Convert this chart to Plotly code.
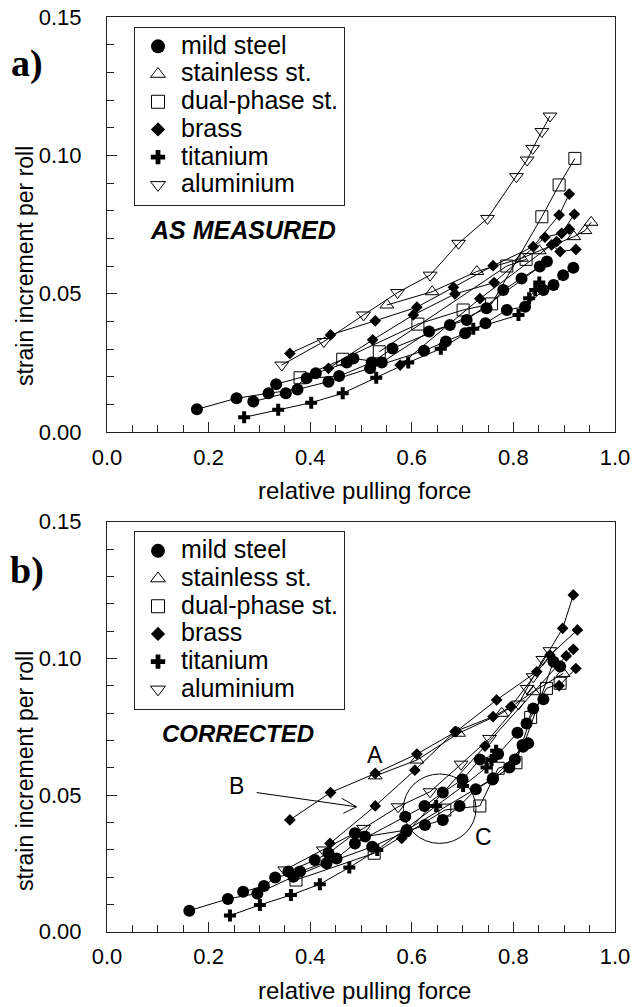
import plotly.graph_objects as go

# ---------------- data: panel a (as measured) ----------------
MS_A1_x = [0.177, 0.255, 0.318, 0.375, 0.436, 0.518, 0.624, 0.667, 0.705, 0.745, 0.787, 0.823, 0.859, 0.879, 0.898, 0.918]
MS_A1_y = [0.0082, 0.0122, 0.0140, 0.0154, 0.0182, 0.0230, 0.0294, 0.0327, 0.0357, 0.0393, 0.0441, 0.0453, 0.0513, 0.0531, 0.0567, 0.0594]
MS_A2_x = [0.288, 0.352, 0.393, 0.457, 0.521, 0.562, 0.675, 0.747, 0.780, 0.816, 0.852]
MS_A2_y = [0.0110, 0.0140, 0.0194, 0.0202, 0.0251, 0.0302, 0.0387, 0.0447, 0.0513, 0.0555, 0.0598]
MS_A3_x = [0.333, 0.411, 0.472, 0.485, 0.541, 0.634, 0.708, 0.866]
MS_A3_y = [0.0173, 0.0212, 0.0251, 0.0266, 0.0251, 0.0363, 0.0405, 0.0616]
ST_A_x = [0.551, 0.640, 0.728, 0.816, 0.851, 0.919, 0.941, 0.953]
ST_A_y = [0.0459, 0.0507, 0.0580, 0.0628, 0.0655, 0.0706, 0.0728, 0.0758]
DP_A1_x = [0.380, 0.464, 0.612, 0.701, 0.757, 0.856, 0.890, 0.921]
DP_A1_y = [0.0196, 0.0263, 0.0390, 0.0441, 0.0463, 0.0778, 0.0893, 0.0989]
DP_A2_x = [0.536, 0.787, 0.825]
DP_A2_y = [0.0290, 0.0600, 0.0624]
BR_A1_x = [0.360, 0.440, 0.528, 0.610, 0.682, 0.760, 0.839, 0.890, 0.910]
BR_A1_y = [0.0284, 0.0351, 0.0402, 0.0451, 0.0523, 0.0601, 0.0670, 0.0784, 0.0860]
BR_A2_x = [0.436, 0.523, 0.603, 0.685, 0.762, 0.862, 0.895, 0.920]
BR_A2_y = [0.0230, 0.0333, 0.0423, 0.0499, 0.0540, 0.0704, 0.0718, 0.0787]
BR_A3_x = [0.577, 0.734, 0.875, 0.892, 0.923]
BR_A3_y = [0.0242, 0.0482, 0.0676, 0.0652, 0.0660]
BR_A4_x = [0.885, 0.910]
BR_A4_y = [0.0688, 0.0733]
TI_A_x = [0.270, 0.337, 0.402, 0.464, 0.530, 0.593, 0.657, 0.721, 0.810, 0.831, 0.843, 0.851]
TI_A_y = [0.0053, 0.0080, 0.0106, 0.0140, 0.0196, 0.0251, 0.0301, 0.0373, 0.0423, 0.0483, 0.0513, 0.0540]
AL_A_x = [0.344, 0.427, 0.505, 0.572, 0.636, 0.692, 0.749, 0.806, 0.827, 0.838, 0.856, 0.872]
AL_A_y = [0.0242, 0.0327, 0.0423, 0.0504, 0.0567, 0.0682, 0.0772, 0.0923, 0.0983, 0.1025, 0.1086, 0.1142]

# ---------------- data: panel b (corrected) ----------------
MS_B1_x = [0.162, 0.238, 0.296, 0.367, 0.432, 0.522, 0.589, 0.626, 0.661, 0.694, 0.726, 0.759, 0.792, 0.803, 0.818, 0.829]
MS_B1_y = [0.0077, 0.0120, 0.0140, 0.0201, 0.0250, 0.0311, 0.0366, 0.0390, 0.0409, 0.0460, 0.0521, 0.0557, 0.0601, 0.0630, 0.0683, 0.0689]
MS_B2_x = [0.268, 0.309, 0.331, 0.380, 0.452, 0.488, 0.587, 0.625, 0.661, 0.700, 0.734, 0.770, 0.808, 0.826, 0.839, 0.859]
MS_B2_y = [0.0146, 0.0167, 0.0198, 0.0220, 0.0268, 0.0323, 0.0421, 0.0460, 0.0509, 0.0557, 0.0630, 0.0650, 0.0728, 0.0762, 0.0817, 0.0850]
MS_B3_x = [0.357, 0.409, 0.436, 0.488, 0.508, 0.590, 0.760, 0.819, 0.879, 0.892]
MS_B3_y = [0.0220, 0.0262, 0.0287, 0.0360, 0.0348, 0.0372, 0.0561, 0.0677, 0.0988, 0.0970]
ST_B_x = [0.528, 0.610, 0.692, 0.777, 0.839, 0.898]
ST_B_y = [0.0570, 0.0628, 0.0726, 0.0799, 0.0878, 0.0945]
DP_B_x = [0.372, 0.526, 0.665, 0.734, 0.770, 0.805, 0.834, 0.865, 0.892]
DP_B_y = [0.0189, 0.0287, 0.0445, 0.0460, 0.0598, 0.0618, 0.0784, 0.0890, 0.0909]
BR_B1_x = [0.360, 0.440, 0.528, 0.610, 0.687, 0.767, 0.846, 0.897, 0.918]
BR_B1_y = [0.0409, 0.0509, 0.0579, 0.0650, 0.0732, 0.0848, 0.0951, 0.1110, 0.1232]
BR_B2_x = [0.439, 0.528, 0.606, 0.685, 0.760, 0.795, 0.872, 0.926]
BR_B2_y = [0.0323, 0.0460, 0.0591, 0.0732, 0.0787, 0.0823, 0.1012, 0.1104]
BR_B3_x = [0.580, 0.744, 0.904, 0.918]
BR_B3_y = [0.0341, 0.0679, 0.1009, 0.1033]
BR_B4_x = [0.890, 0.923]
BR_B4_y = [0.0900, 0.0963]
TI_B_x = [0.242, 0.301, 0.362, 0.419, 0.477, 0.532, 0.648, 0.701, 0.747, 0.757, 0.766]
TI_B_y = [0.0059, 0.0098, 0.0134, 0.0174, 0.0235, 0.0299, 0.0460, 0.0533, 0.0601, 0.0628, 0.0662]
AL_B_x = [0.350, 0.426, 0.505, 0.573, 0.636, 0.697, 0.753, 0.810, 0.827, 0.839, 0.858, 0.872]
AL_B_y = [0.0226, 0.0299, 0.0378, 0.0457, 0.0512, 0.0613, 0.0707, 0.0833, 0.0890, 0.0933, 0.0996, 0.1028]

MATERIALS = ["mild steel", "stainless st.", "dual-phase st.", "brass", "titanium", "aluminium"]

FONT = "Liberation Sans, Arial, sans-serif"
SERIF = "Liberation Serif, Times New Roman, serif"
STYLE = {
    "mild steel": dict(symbol="circle", size=12, color="black", line=dict(width=0)),
    "stainless st.": dict(symbol="triangle-up-open", size=12, color="black", line=dict(width=1, color="black")),
    "dual-phase st.": dict(symbol="square-open", size=12, color="black", line=dict(width=1, color="black")),
    "brass": dict(symbol="diamond", size=9, color="black", line=dict(width=0)),
    "titanium": dict(symbol="cross", size=10, color="black", line=dict(width=0)),
    "aluminium": dict(symbol="triangle-down-open", size=12, color="black", line=dict(width=1, color="black")),
}
LEG_SIZE = {"mild steel": 14, "stainless st.": 13, "dual-phase st.": 13, "brass": 11, "titanium": 12, "aluminium": 13}

panel_a = [
    ("mild steel", MS_A1_x, MS_A1_y), ("mild steel", MS_A2_x, MS_A2_y), ("mild steel", MS_A3_x, MS_A3_y),
    ("stainless st.", ST_A_x, ST_A_y),
    ("dual-phase st.", DP_A1_x, DP_A1_y), ("dual-phase st.", DP_A2_x, DP_A2_y),
    ("brass", BR_A1_x, BR_A1_y), ("brass", BR_A2_x, BR_A2_y), ("brass", BR_A3_x, BR_A3_y), ("brass", BR_A4_x, BR_A4_y),
    ("titanium", TI_A_x, TI_A_y),
    ("aluminium", AL_A_x, AL_A_y),
]
panel_b = [
    ("mild steel", MS_B1_x, MS_B1_y), ("mild steel", MS_B2_x, MS_B2_y), ("mild steel", MS_B3_x, MS_B3_y),
    ("stainless st.", ST_B_x, ST_B_y),
    ("dual-phase st.", DP_B_x, DP_B_y),
    ("brass", BR_B1_x, BR_B1_y), ("brass", BR_B2_x, BR_B2_y), ("brass", BR_B3_x, BR_B3_y), ("brass", BR_B4_x, BR_B4_y),
    ("titanium", TI_B_x, TI_B_y),
    ("aluminium", AL_B_x, AL_B_y),
]

fig = go.Figure()
for series, xa, ya, leg in [(panel_a, "x", "y", "legend"), (panel_b, "x2", "y2", "legend2")]:
    for name, xs, ys in series:
        fig.add_trace(go.Scatter(x=xs, y=ys, mode="lines+markers", xaxis=xa, yaxis=ya,
                                 line=dict(color="black", width=1), marker=STYLE[name],
                                 showlegend=False, cliponaxis=False))
    for name in MATERIALS:
        m = dict(STYLE[name]); m["size"] = LEG_SIZE[name]
        fig.add_trace(go.Scatter(x=[None], y=[None], mode="markers", xaxis=xa, yaxis=ya,
                                 marker=m, legend=leg, showlegend=True,
                                 name='<span style="font-size:25px">' + name + '</span>'))

W, H = 634, 1007
xdom = [107 / W, 615 / W]
ya_dom = [1 - 432 / H, 1 - 17 / H]
yb_dom = [1 - 931.7 / H, 1 - 521.7 / H]

def xaxis(dom, anchor):
    return dict(domain=dom, anchor=anchor, range=[0, 1], dtick=0.2, tick0=0, tickformat=".1f",
                ticks="inside", ticklen=10, tickwidth=1, tickcolor="#222",
                minor=dict(dtick=0.05, ticks="inside", ticklen=7, tickwidth=1, tickcolor="#222"),
                showline=True, linecolor="#222", linewidth=1.2, mirror=True, showgrid=False, zeroline=False,
                automargin=False,
                tickfont=dict(family=FONT, size=22, color="black"), ticklabelstandoff=5)

def yaxis(dom, anchor):
    return dict(domain=dom, anchor=anchor, range=[0, 0.15], dtick=0.05, tick0=0, tickformat=".2f",
                ticks="inside", ticklen=10, tickwidth=1, tickcolor="#222",
                minor=dict(dtick=0.01, ticks="inside", ticklen=7, tickwidth=1, tickcolor="#222"),
                showline=True, linecolor="#222", linewidth=1.2, mirror=True, showgrid=False, zeroline=False,
                automargin=False,
                tickfont=dict(family=FONT, size=22, color="black"), ticklabelstandoff=20)

legend_common = dict(x=134 / W, xanchor="left", yanchor="top", bgcolor="white", bordercolor="#222",
                     borderwidth=1, font=dict(family=FONT, size=19, color="black"), itemsizing="trace",
                     itemwidth=36, tracegroupgap=0)

fig.update_layout(
    template="none",
    width=W, height=H, margin=dict(l=0, r=0, t=0, b=0, pad=0, autoexpand=False),
    paper_bgcolor="white", plot_bgcolor="white",
    xaxis=xaxis(xdom, "y"), yaxis=yaxis(ya_dom, "x"),
    xaxis2=xaxis(xdom, "y2"), yaxis2=yaxis(yb_dom, "x2"),
    legend=dict(y=1 - 26.5 / H, **legend_common),
    legend2=dict(y=1 - 531 / H, **legend_common),
    font=dict(family=FONT, color="black"),
)

def note(text, x, y, size, family=FONT, xref="paper", yref="paper", angle=0):
    return dict(text=text, xref=xref, yref=yref, x=x, y=y, xanchor="center", yanchor="middle",
                textangle=angle, showarrow=False, font=dict(family=family, size=size, color="black"))

ann = []
# axis titles
for yc in [266, 771]:
    ann.append(note("strain increment per roll", 25 / W, 1 - yc / H, 23, angle=-90))
for yc in [490, 990]:
    ann.append(note("relative pulling force", 364 / W, 1 - yc / H, 24))
# panel labels
ann.append(note("<b>a)</b>", 27 / W, 1 - 64 / H, 38, family=SERIF))
ann.append(note("<b>b)</b>", 27 / W, 1 - 570 / H, 38, family=SERIF))
# panel captions
ann.append(note("<b><i>AS MEASURED</i></b>", 243 / W, 1 - 230 / H, 25))
ann.append(note("<b><i>CORRECTED</i></b>", 238 / W, 1 - 733 / H, 24))
# A, B, C labels in panel b
ann.append(note("A", 0.528, 0.0647, 23, xref="x2", yref="y2"))
ann.append(note("B", 0.254, 0.0532, 23, xref="x2", yref="y2"))
ann.append(note("C", 0.741, 0.0348, 23, xref="x2", yref="y2"))
fig.update_layout(annotations=ann)

shapes = [
    dict(type="line", xref="x2", yref="y2", x0=0.2947, y0=0.0509, x1=0.4911, y1=0.0457, line=dict(color="black", width=1)),
    dict(type="line", xref="x2", yref="y2", x0=0.4911, y0=0.0457, x1=0.462, y1=0.0488, line=dict(color="black", width=1)),
    dict(type="line", xref="x2", yref="y2", x0=0.4911, y0=0.0457, x1=0.4652, y1=0.0433, line=dict(color="black", width=1)),
    dict(type="circle", xref="x2", yref="y2", x0=0.5833, x1=0.7264, y0=0.0323, y1=0.0577, line=dict(color="black", width=1)),
]
fig.update_layout(shapes=shapes)

fig.write_html("out.html")
